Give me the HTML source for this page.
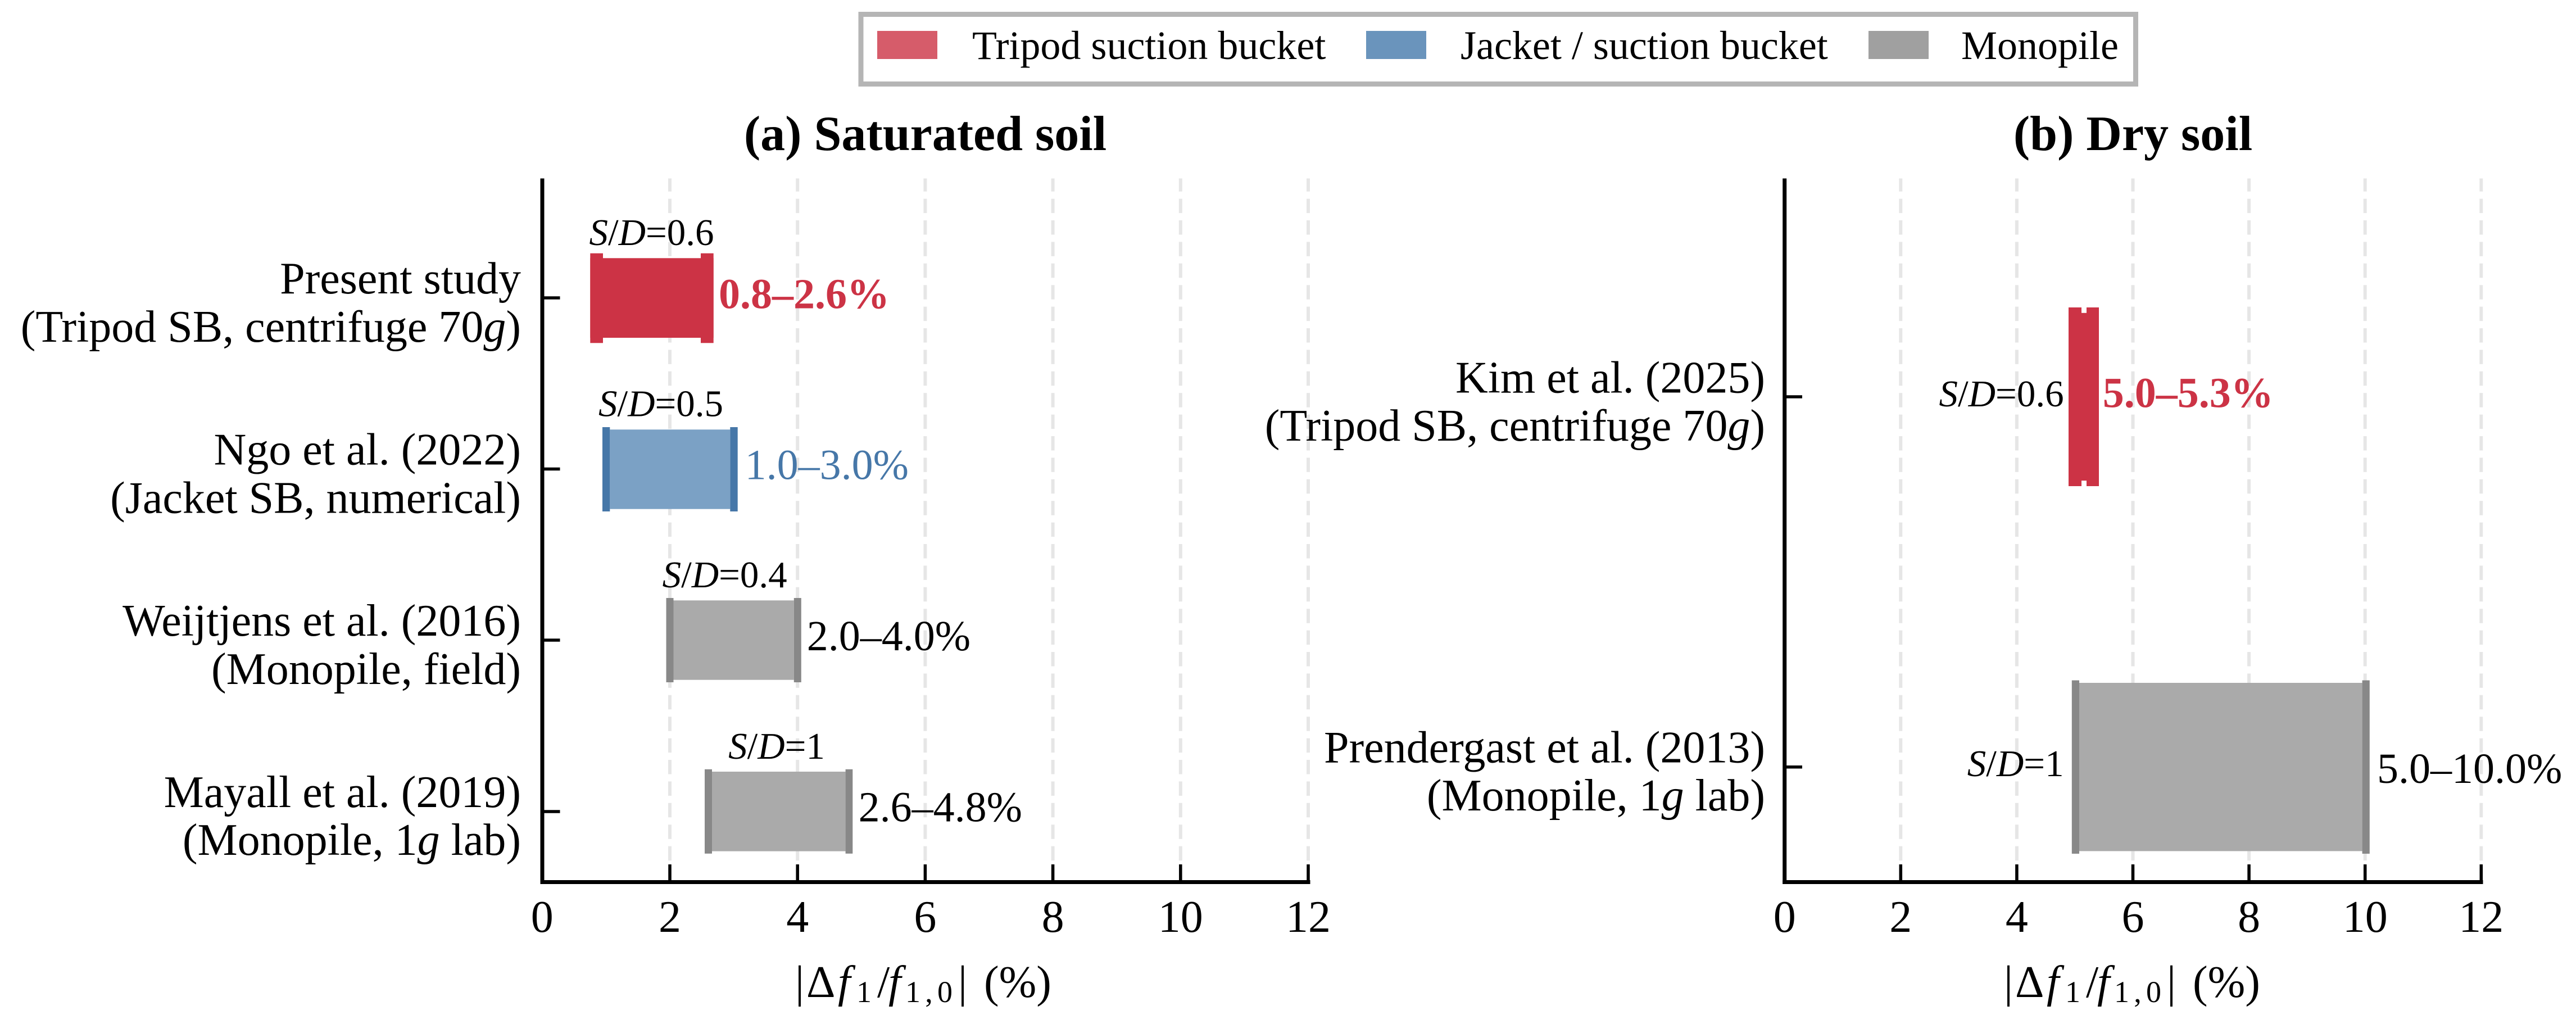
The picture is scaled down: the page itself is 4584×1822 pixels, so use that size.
<!DOCTYPE html>
<html>
<head>
<meta charset="utf-8">
<style>
  html, body { margin: 0; padding: 0; background: #ffffff; }
  svg { display: block; }
  svg text, svg tspan { font-family: "Liberation Serif", "Times New Roman", "DejaVu Serif", serif; }
</style>
</head>
<body>
<svg xmlns="http://www.w3.org/2000/svg" width="4584" height="1822" viewBox="0 0 4584 1822" style="font-family: 'Liberation Serif', 'Times New Roman', serif;">
  <rect x="0" y="0" width="4584" height="1822" fill="#ffffff"/>

  <!-- Legend -->
  <rect x="1532" y="25.5" width="2268.5" height="124" fill="#ffffff" stroke="#b5b5b5" stroke-width="9"/>
  <rect x="1561" y="55" width="107" height="50" fill="#d65c6a"/>
  <text x="1730" y="105" font-size="72" fill="#000">Tripod suction bucket</text>
  <rect x="2431" y="55" width="107" height="50" fill="#6a94bc"/>
  <text x="2599" y="105" font-size="72" fill="#000">Jacket / suction bucket</text>
  <rect x="3325" y="55" width="107" height="50" fill="#a0a0a0"/>
  <text x="3490" y="105" font-size="72" fill="#000">Monopile</text>

  <!-- Titles -->
  <text x="1646.5" y="267" font-size="88" font-weight="bold" text-anchor="middle">(a) Saturated soil</text>
  <text x="3795.5" y="267" font-size="88" font-weight="bold" text-anchor="middle">(b) Dry soil</text>

  <!-- Grid lines -->
  <g stroke="#e6e6e6" stroke-width="6" stroke-dasharray="25.5 12.9" fill="none">
    <line x1="1192" y1="1569.5" x2="1192" y2="317.5"/>
    <line x1="1419.2" y1="1569.5" x2="1419.2" y2="317.5"/>
    <line x1="1646.4" y1="1569.5" x2="1646.4" y2="317.5"/>
    <line x1="1873.6" y1="1569.5" x2="1873.6" y2="317.5"/>
    <line x1="2100.8" y1="1569.5" x2="2100.8" y2="317.5"/>
    <line x1="2328" y1="1569.5" x2="2328" y2="317.5"/>
    <line x1="3382.3" y1="1569.5" x2="3382.3" y2="317.5"/>
    <line x1="3588.9" y1="1569.5" x2="3588.9" y2="317.5"/>
    <line x1="3795.5" y1="1569.5" x2="3795.5" y2="317.5"/>
    <line x1="4002.1" y1="1569.5" x2="4002.1" y2="317.5"/>
    <line x1="4208.7" y1="1569.5" x2="4208.7" y2="317.5"/>
    <line x1="4415.3" y1="1569.5" x2="4415.3" y2="317.5"/>
  </g>

  <!-- Left bars -->
  <rect x="1050.3" y="459.3" width="219.4" height="141.7" fill="#cc3345"/>
  <rect x="1050.3" y="450.7" width="22.7" height="159.6" fill="#cc3345"/>
  <rect x="1247" y="450.7" width="22.7" height="159.6" fill="#cc3345"/>

  <rect x="1085.3" y="764.3" width="214" height="141.4" fill="#7ba1c5"/>
  <rect x="1072" y="760" width="13.3" height="150" fill="#4677a8"/>
  <rect x="1299.3" y="760" width="13.4" height="150" fill="#4677a8"/>

  <rect x="1198.5" y="1068.3" width="214.3" height="141.4" fill="#aaaaaa"/>
  <rect x="1185.5" y="1064" width="13" height="150" fill="#888888"/>
  <rect x="1412.8" y="1064" width="13" height="150" fill="#888888"/>

  <rect x="1267" y="1373" width="237.6" height="141.6" fill="#aaaaaa"/>
  <rect x="1254" y="1368.8" width="13" height="150" fill="#888888"/>
  <rect x="1504.6" y="1368.8" width="12.7" height="150" fill="#888888"/>

  <!-- Right bars -->
  <rect x="3681" y="556.8" width="54" height="298.4" fill="#cc3345"/>
  <rect x="3681" y="547" width="23" height="318" fill="#cc3345"/>
  <rect x="3713" y="547" width="22" height="318" fill="#cc3345"/>

  <rect x="3700" y="1215" width="503.6" height="299.4" fill="#aaaaaa"/>
  <rect x="3686.8" y="1210.5" width="13.2" height="308.5" fill="#888888"/>
  <rect x="4203.6" y="1210.5" width="13.2" height="308.5" fill="#888888"/>

  <!-- Spines -->
  <g stroke="#000" fill="none">
    <line x1="965" y1="317.5" x2="965" y2="1573" stroke-width="7"/>
    <line x1="961.5" y1="1569.5" x2="2331.5" y2="1569.5" stroke-width="7"/>
    <line x1="3175.7" y1="317.5" x2="3175.7" y2="1573" stroke-width="7"/>
    <line x1="3172.2" y1="1569.5" x2="4418.5" y2="1569.5" stroke-width="7"/>
  </g>

  <!-- Ticks -->
  <g stroke="#000" stroke-width="5.5">
    <line x1="1192" y1="1566" x2="1192" y2="1538"/>
    <line x1="1419.2" y1="1566" x2="1419.2" y2="1538"/>
    <line x1="1646.4" y1="1566" x2="1646.4" y2="1538"/>
    <line x1="1873.6" y1="1566" x2="1873.6" y2="1538"/>
    <line x1="2100.8" y1="1566" x2="2100.8" y2="1538"/>
    <line x1="2328" y1="1566" x2="2328" y2="1538"/>
    <line x1="3382.3" y1="1566" x2="3382.3" y2="1538"/>
    <line x1="3588.9" y1="1566" x2="3588.9" y2="1538"/>
    <line x1="3795.5" y1="1566" x2="3795.5" y2="1538"/>
    <line x1="4002.1" y1="1566" x2="4002.1" y2="1538"/>
    <line x1="4208.7" y1="1566" x2="4208.7" y2="1538"/>
    <line x1="4415.3" y1="1566" x2="4415.3" y2="1538"/>
    <line x1="968.5" y1="530" x2="996.5" y2="530"/>
    <line x1="968.5" y1="834.5" x2="996.5" y2="834.5"/>
    <line x1="968.5" y1="1139" x2="996.5" y2="1139"/>
    <line x1="968.5" y1="1444" x2="996.5" y2="1444"/>
    <line x1="3179" y1="706" x2="3207" y2="706"/>
    <line x1="3179" y1="1364.7" x2="3207" y2="1364.7"/>
  </g>

  <!-- X tick labels -->
  <g font-size="80" text-anchor="middle" fill="#000">
    <text x="964.8" y="1658">0</text>
    <text x="1192" y="1658">2</text>
    <text x="1419.2" y="1658">4</text>
    <text x="1646.4" y="1658">6</text>
    <text x="1873.6" y="1658">8</text>
    <text x="2100.8" y="1658">10</text>
    <text x="2328" y="1658">12</text>
    <text x="3175.7" y="1658">0</text>
    <text x="3382.3" y="1658">2</text>
    <text x="3588.9" y="1658">4</text>
    <text x="3795.5" y="1658">6</text>
    <text x="4002.1" y="1658">8</text>
    <text x="4208.7" y="1658">10</text>
    <text x="4415.3" y="1658">12</text>
  </g>

  <!-- Y labels -->
  <g font-size="80" text-anchor="end" fill="#000">
    <text x="927" y="522">Present study</text>
    <text x="927" y="608">(Tripod SB, centrifuge 70<tspan font-style="italic">g</tspan>)</text>
    <text x="927" y="826.5">Ngo et al. (2022)</text>
    <text x="927" y="912.5">(Jacket SB, numerical)</text>
    <text x="927" y="1131">Weijtjens et al. (2016)</text>
    <text x="927" y="1217">(Monopile, field)</text>
    <text x="927" y="1436">Mayall et al. (2019)</text>
    <text x="927" y="1521">(Monopile, 1<tspan font-style="italic">g</tspan> lab)</text>
    <text x="3141" y="698.5">Kim et al. (2025)</text>
    <text x="3141" y="784">(Tripod SB, centrifuge 70<tspan font-style="italic">g</tspan>)</text>
    <text x="3141" y="1356.5">Prendergast et al. (2013)</text>
    <text x="3141" y="1442">(Monopile, 1<tspan font-style="italic">g</tspan> lab)</text>
  </g>

  <!-- S/D annotations -->
  <g font-size="67" fill="#000">
    <text x="1159.5" y="436" text-anchor="middle"><tspan font-style="italic">S</tspan>/<tspan font-style="italic">D</tspan>=0.6</text>
    <text x="1176" y="740.7" text-anchor="middle"><tspan font-style="italic">S</tspan>/<tspan font-style="italic">D</tspan>=0.5</text>
    <text x="1289.6" y="1045" text-anchor="middle"><tspan font-style="italic">S</tspan>/<tspan font-style="italic">D</tspan>=0.4</text>
    <text x="1382" y="1349.8" text-anchor="middle"><tspan font-style="italic">S</tspan>/<tspan font-style="italic">D</tspan>=1</text>
    <text x="3672.6" y="723" text-anchor="end"><tspan font-style="italic">S</tspan>/<tspan font-style="italic">D</tspan>=0.6</text>
    <text x="3672.6" y="1381" text-anchor="end"><tspan font-style="italic">S</tspan>/<tspan font-style="italic">D</tspan>=1</text>
  </g>

  <!-- Value annotations -->
  <g font-size="76">
    <text x="1279" y="548.3" font-weight="bold" fill="#cc3345">0.8–2.6%</text>
    <text x="1325.6" y="852.5" fill="#4677a8">1.0–3.0%</text>
    <text x="1435.8" y="1157" fill="#000">2.0–4.0%</text>
    <text x="1527.6" y="1461.5" fill="#000">2.6–4.8%</text>
    <text x="3741.7" y="724.6" font-weight="bold" fill="#cc3345">5.0–5.3%</text>
    <text x="4230" y="1393" fill="#000">5.0–10.0%</text>
  </g>

  <!-- X axis labels -->
  <g font-size="80" fill="#000">
    <text x="1415" y="1774">|</text>
    <text x="1435" y="1774">Δ</text>
    <text x="1491" y="1774" font-style="italic">f</text>
    <text x="1524" y="1783" font-size="54">1</text>
    <text x="1561" y="1774">/</text>
    <text x="1581" y="1774" font-style="italic">f</text>
    <text x="1611" y="1783" font-size="54" textLength="84" lengthAdjust="spacing">1,0</text>
    <text x="1705" y="1774">|</text>
    <text x="1751" y="1774">(%)</text>

    <text x="3566" y="1774">|</text>
    <text x="3586" y="1774">Δ</text>
    <text x="3642" y="1774" font-style="italic">f</text>
    <text x="3675" y="1783" font-size="54">1</text>
    <text x="3712" y="1774">/</text>
    <text x="3732" y="1774" font-style="italic">f</text>
    <text x="3762" y="1783" font-size="54" textLength="84" lengthAdjust="spacing">1,0</text>
    <text x="3856" y="1774">|</text>
    <text x="3902" y="1774">(%)</text>
  </g>
</svg>
</body>
</html>
